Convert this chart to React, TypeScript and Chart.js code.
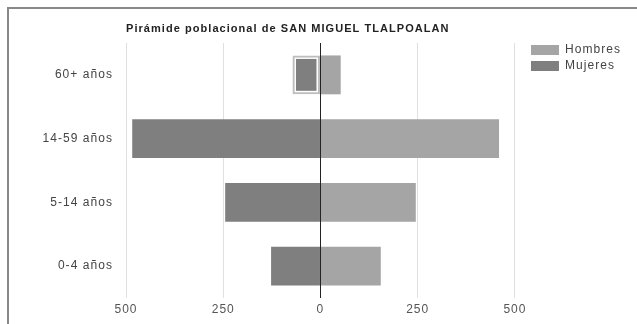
import React, { useEffect, useRef } from "react";
import { Chart, registerables } from "chart.js";

Chart.register(...registerables);

const categories = ["60+ años", "14-59 años", "5-14 años", "0-4 años"];
const hombres = [52, 459, 245, 155];
const mujeres = [72, 484, 245, 127];
const tickValues = [-500, -250, 0, 250, 500];
const chartTitle = "Pirámide poblacional de SAN MIGUEL TLALPOALAN";

const FONT = "'Liberation Sans', Arial, Helvetica, sans-serif";

const spacingPlugin = {
  id: "spacing",
  beforeUpdate(chart: any) {
    chart.ctx.letterSpacing = "1.05px";
  },
  beforeDraw(chart: any) {
    chart.ctx.letterSpacing = "1.05px";
  },
};

const highlightPlugin = {
  id: "highlight",
  afterDatasetsDraw(chart: any) {
    const meta = chart.getDatasetMeta(1);
    const el = meta.data[0];
    if (!el) return;
    const { x, y, base, height } = el.getProps(["x", "y", "base", "height"], true);
    const left = Math.min(x, base);
    const right = Math.max(x, base);
    const top = y - height / 2;
    const ctx = chart.ctx;
    ctx.save();
    ctx.strokeStyle = "#ffffff";
    ctx.lineWidth = 1.5;
    ctx.strokeRect(left + 2.75, top + 2.75, right - left - 5.5, height - 5.5);
    ctx.restore();
  },
};

export default function App() {
  const ref = useRef<HTMLCanvasElement>(null);
  useEffect(() => {
    if (!ref.current) return;
    const chart = new Chart(ref.current, {
      type: "bar",
      data: {
        labels: categories,
        datasets: [
          {
            label: "Hombres",
            data: hombres,
            backgroundColor: "#a5a5a5",
            borderWidth: 0,
          },
          {
            label: "Mujeres",
            data: mujeres.map((v) => -v),
            backgroundColor: "#7f7f7f",
            borderColor: ["#bdbdbd", "#7f7f7f", "#7f7f7f", "#7f7f7f"],
            borderWidth: [2, 0, 0, 0],
            borderSkipped: false,
          },
        ],
      },
      options: {
        indexAxis: "y",
        responsive: false,
        animation: false,
        layout: { padding: { top: 14, right: 6, bottom: 0, left: 0 } },
        datasets: { bar: { barPercentage: 0.61, categoryPercentage: 1 } },
        scales: {
          x: {
            stacked: true,
            min: -500,
            max: 500,
            afterBuildTicks: (s: any) => {
              s.ticks = tickValues.map((v) => ({ value: v }));
            },
            afterFit: (s: any) => {
              s.height = 26;
            },
            grid: {
              color: (c: any) => (c.tick && c.tick.value === 0 ? "#222222" : "#e0e0e0"),
              lineWidth: 1,
              drawTicks: false,
            },
            border: { display: false },
            ticks: {
              padding: 4,
              color: "#555555",
              font: { family: FONT, size: 12 },
              callback: (v: any) => String(Math.abs(Number(v))),
            },
          },
          y: {
            stacked: true,
            afterFit: (s: any) => {
              s.width = 126;
            },
            grid: { display: false, drawTicks: false },
            border: { display: false },
            ticks: {
              padding: 13,
              color: "#444444",
              font: { family: FONT, size: 12 },
            },
          },
          yr: {
            type: "linear",
            position: "right",
            display: true,
            grid: { display: false, drawTicks: false },
            border: { display: false },
            ticks: { display: false },
            afterFit: (s: any) => {
              s.width = 12;
            },
          },
        },
        plugins: {
          title: {
            display: true,
            text: chartTitle,
            align: "start",
            fullSize: false,
            color: "#222222",
            font: { family: FONT, size: 11, weight: "bold", lineHeight: 1.2 },
            padding: { top: 8.4, bottom: 7.4 },
          },
          legend: {
            position: "right",
            align: "start",
            title: {
              display: true,
              text: " ",
              font: { size: 10, lineHeight: 1 },
              padding: { top: 16, bottom: 0 },
            },
            labels: {
              boxWidth: 28,
              boxHeight: 10,
              padding: 4,
              color: "#444444",
              font: { family: FONT, size: 12 },
              generateLabels: (chart: any) =>
                Chart.defaults.plugins.legend.labels
                  .generateLabels(chart)
                  .map((l: any) => ({ ...l, lineWidth: 0, strokeStyle: l.fillStyle })),
            },
          },
          tooltip: { enabled: false },
        },
      },
      plugins: [spacingPlugin, highlightPlugin],
    } as any);
    return () => chart.destroy();
  }, []);

  return (
    <div
      style={{
        position: "fixed",
        left: 0,
        top: 0,
        width: 637,
        height: 324,
        background: "#ffffff",
        overflow: "hidden",
      }}
    >
      <div
        style={{
          position: "absolute",
          left: 7,
          top: 7,
          width: 700,
          height: 400,
          border: "2px solid #888888",
          boxSizing: "border-box",
        }}
      />
      <canvas
        ref={ref}
        width={637}
        height={324}
        style={{ position: "absolute", left: 0, top: 0 }}
      />
    </div>
  );
}
